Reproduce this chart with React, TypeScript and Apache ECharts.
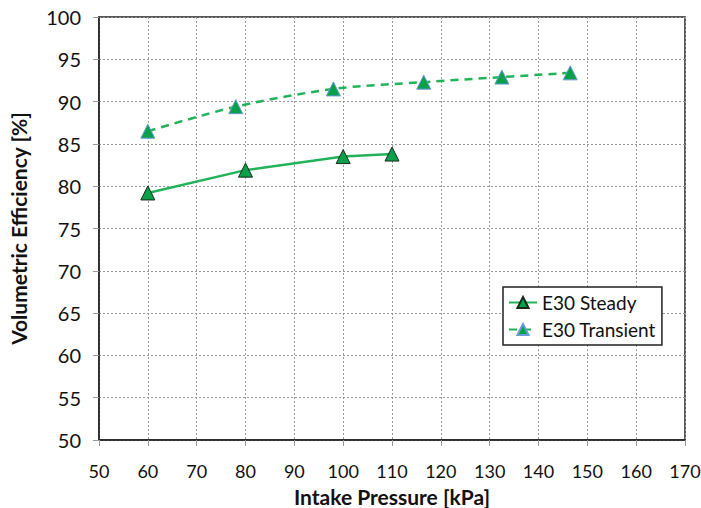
import React, { useEffect, useRef } from "react";
import * as echarts from "echarts";

const steadyX = [60, 80, 100, 110];
const steadyY = [79.2, 81.9, 83.5, 83.8];
const transientX = [60, 78, 98, 116.5, 132.5, 146.5];
const transientY = [86.5, 89.4, 91.5, 92.3, 92.9, 93.4];
const seriesNames = ["E30 Steady", "E30 Transient"];
const xTitle = "Intake Pressure [kPa]";
const yTitle = "Volumetric Efficiency [%]";

const FONT = "Lato";

export default function App() {
  const ref = useRef<HTMLDivElement>(null);
  useEffect(() => {
    const chart = echarts.init(ref.current!, null, { renderer: "svg" });
    chart.setOption({
      animation: false,
      backgroundColor: "#fff",
      textStyle: { fontFamily: FONT },
      grid: {
        left: 99,
        right: 16,
        top: 17,
        bottom: 68,
        show: true,
        borderColor: "#222",
        borderWidth: 1.5,
        outerBoundsMode: "none",
        containLabel: false,
      },
      legend: {
        left: 503,
        top: 287,
        orient: "vertical",
        backgroundColor: "#fff",
        borderColor: "#222",
        borderWidth: 1.5,
        borderRadius: 0,
        padding: [6, 6, 6, 5],
        itemGap: 8,
        itemWidth: 28,
        itemHeight: 14,
        textStyle: { fontFamily: FONT, fontSize: 19, color: "#111" },
        data: seriesNames,
      },
      xAxis: {
        type: "value",
        min: 50,
        max: 170,
        interval: 10,
        name: xTitle,
        nameLocation: "middle",
        nameGap: 36,
        nameTextStyle: { fontFamily: FONT, fontSize: 21, fontWeight: "bold", color: "#111", lineHeight: 24 },
        axisLine: { show: true, lineStyle: { color: "#222", width: 1.5 } },
        axisTick: { show: true, length: 6, lineStyle: { color: "#999" } },
        axisLabel: { fontFamily: FONT, fontSize: 18, color: "#111", margin: 22 },
        splitLine: { show: true, lineStyle: { color: "#999", type: [2, 2], width: 1 } },
      },
      yAxis: {
        type: "value",
        min: 50,
        max: 100,
        interval: 5,
        name: yTitle,
        nameLocation: "middle",
        nameGap: 70,
        nameTextStyle: { fontFamily: FONT, fontSize: 21, fontWeight: "bold", color: "#111" },
        axisLine: { show: true, lineStyle: { color: "#222", width: 1.5 } },
        axisTick: { show: true, length: 6, lineStyle: { color: "#999" } },
        axisLabel: { fontFamily: FONT, fontSize: 20, color: "#111", margin: 18 },
        splitLine: { show: true, lineStyle: { color: "#999", type: [2, 2], width: 1 } },
      },
      series: [
        {
          name: seriesNames[0],
          type: "line",
          data: steadyX.map((x, i) => [x, steadyY[i]]),
          symbol: "triangle",
          symbolSize: 14,
          lineStyle: { color: "#22b35a", width: 2.5 },
          itemStyle: { color: "#08a04a", borderColor: "#1a2a1a", borderWidth: 1 },
        },
        {
          name: seriesNames[1],
          type: "line",
          smooth: 0.3,
          data: transientX.map((x, i) => [x, transientY[i]]),
          symbol: "triangle",
          symbolSize: 14,
          lineStyle: { color: "#22b35a", width: 2.5, type: [8, 6] },
          itemStyle: { color: "#08a04a", borderColor: "#6a9ad8", borderWidth: 1 },
        },
      ],
    });
    return () => chart.dispose();
  }, []);
  return <div ref={ref} style={{ width: 701, height: 508, position: "absolute", left: 0, top: 0 }} />;
}
